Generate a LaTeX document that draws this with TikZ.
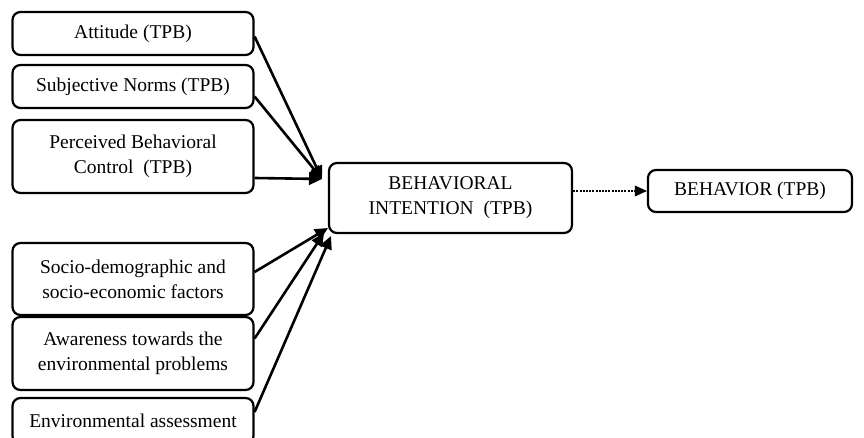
\documentclass[tikz,border=0pt]{standalone}
\usepackage{fontspec}
\setmainfont{Liberation Serif}
\usetikzlibrary{arrows.meta,calc}
\begin{document}
\begin{tikzpicture}[x=1pt,y=-1pt,
  box/.style={draw,line width=2.2pt,rounded corners=8pt,align=center,
    font=\fontsize{19.5}{25}\selectfont,inner sep=0pt},
  lbox/.style={box,minimum width=241pt},
  conn/.style={line width=2.6pt,-{Triangle[length=13pt,width=12pt]}},
  dconn/.style={line width=2.8pt,dash pattern=on 2pt off 1.2pt,-{Triangle[length=12pt,width=11pt,line width=0pt]}}]
\useasboundingbox (0,0) rectangle (864,438);
\node[lbox,minimum height=43pt] (att) at (133,33.5) {Attitude (TPB)};
\node[lbox,minimum height=43pt] (sn) at (133,86.5) {Subjective Norms (TPB)};
\node[lbox,minimum height=73pt] (pbc) at (133,156.5) {Perceived Behavioral\\Control\ \ (TPB)};
\node[lbox,minimum height=72pt] (soc) at (133,279) {Socio-demographic and\\socio-economic factors};
\node[lbox,minimum height=73pt] (awa) at (133,353.5) {Awareness towards the\\environmental problems};
\node[lbox,minimum height=46pt] (env) at (133,421) {Environmental assessment};
\node[box,minimum width=243pt,minimum height=70pt] (int) at (450.5,198) {BEHAVIORAL\\INTENTION\ \ (TPB)};
\node[box,minimum width=204pt,minimum height=42pt] (beh) at (750,191) {BEHAVIOR (TPB)};
\coordinate (t1) at (322,179);
\coordinate (t2) at (328,228);
\coordinate (t3) at (324,233);
\coordinate (t4) at (331,236);
\draw[conn] ($(att.east)+(0,3)$) -- (t1);
\draw[conn] ($(sn.east)+(0,10)$) -- (t1);
\draw[conn] ($(pbc.east)+(0,21.5)$) -- (t1);
\draw[conn] ($(soc.east)+(0,-7)$) -- (t2);
\draw[conn] ($(awa.east)+(0,-15)$) -- (t3);
\draw[conn] ($(env.east)+(0,-9)$) -- (t4);
\draw[dconn] (int.east |- beh.west) -- (beh.west);
\end{tikzpicture}
\end{document}
